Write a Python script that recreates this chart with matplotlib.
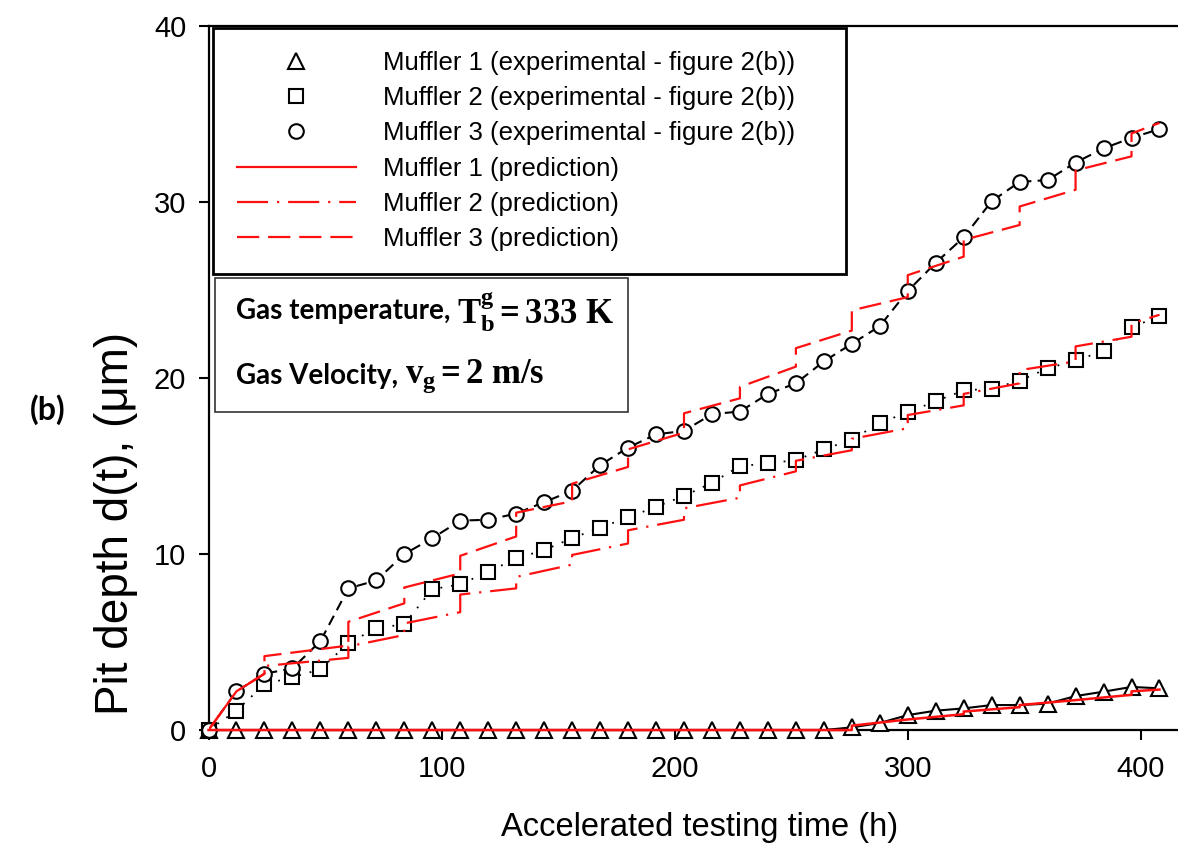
import matplotlib
matplotlib.use("Agg")
import matplotlib.pyplot as plt
from matplotlib.lines import Line2D
from matplotlib.patches import Rectangle

plt.rcParams["font.family"] = ["Liberation Sans", "DejaVu Sans"]
plt.rcParams["mathtext.fontset"] = "custom"
plt.rcParams["mathtext.rm"] = "Liberation Serif"
plt.rcParams["mathtext.it"] = "Liberation Serif:italic"
plt.rcParams["mathtext.bf"] = "Liberation Serif:bold"

RED = "#ff1010"

# experimental points, every 12 h
t_exp = list(range(0, 409, 12))
m1_exp = [0, 0, 0, 0, 0, 0, 0, 0, 0, 0, 0, 0, 0, 0, 0, 0, 0, 0, 0, 0, 0, 0, 0,
          0.15, 0.4, 0.85, 1.1, 1.23, 1.42, 1.42, 1.5, 1.93, 2.18, 2.45, 2.37]
m2_exp = [0, 1.1, 2.6, 3.0, 3.45, 4.95, 5.78, 6.02, 8.0, 8.28, 8.99, 9.75, 10.23,
          10.9, 11.5, 12.08, 12.69, 13.3, 14.05, 15.0, 15.15, 15.34, 15.95, 16.5,
          17.46, 18.05, 18.69, 19.3, 19.4, 19.85, 20.55, 21.0, 21.53, 22.9, 23.5]
m3_exp = [0, 2.2, 3.2, 3.5, 5.05, 8.05, 8.5, 10.0, 10.9, 11.9, 11.95, 12.3, 12.95,
          13.6, 15.05, 16.05, 16.8, 17.0, 17.95, 18.1, 19.1, 19.7, 20.95, 21.95,
          22.95, 24.95, 26.55, 28.0, 30.05, 31.15, 31.25, 32.25, 33.05, 33.65, 34.15]

# predictions (step-like curves, repeated time = jump)
m1_pred_t = [0, 276, 276, 300, 324, 324, 348, 348, 372, 396, 396, 408]
m1_pred = [0, 0, 0.25, 0.6, 0.9, 1.05, 1.3, 1.42, 1.7, 2.0, 2.2, 2.3]

m2_pred_t = [0, 12, 24, 24, 60, 60, 84, 84, 108, 108, 132, 132, 156, 156, 180, 180,
             204, 204, 228, 228, 252, 252, 276, 276, 300, 300, 324, 324, 348, 348,
             372, 372, 396, 396, 408]
m2_pred = [0, 2.2, 3.2, 3.64, 4.1, 4.75, 5.4, 6.06, 6.7, 7.7, 8.05, 8.7, 9.4, 9.95,
           10.6, 11.35, 11.95, 12.6, 13.2, 13.9, 14.7, 15.3, 15.9, 16.55, 17.15, 17.9,
           18.45, 19.1, 19.7, 20.45, 20.95, 21.8, 22.35, 23.1, 23.6]

m3_pred_t = [0, 12, 24, 24, 60, 60, 84, 84, 108, 108, 132, 132, 156, 156, 180, 180,
             204, 204, 228, 228, 252, 252, 276, 276, 300, 300, 324, 324, 348, 348,
             372, 372, 396, 396, 408]
m3_pred = [0, 2.2, 3.2, 4.2, 4.8, 6.15, 7.2, 8.1, 8.9, 9.9, 11.0, 12.35, 13.0, 14.0,
           14.95, 15.95, 16.9, 18.0, 18.85, 19.5, 20.65, 21.7, 22.7, 23.85, 24.6, 25.85,
           26.9, 27.85, 28.7, 29.75, 30.7, 31.8, 32.6, 33.9, 34.5]

labels = ["Muffler 1 (experimental - figure 2(b))",
          "Muffler 2 (experimental - figure 2(b))",
          "Muffler 3 (experimental - figure 2(b))",
          "Muffler 1 (prediction)",
          "Muffler 2 (prediction)",
          "Muffler 3 (prediction)"]

DASH_M3 = (0, (10, 4))
DASHDOT_M2 = (0, (14, 4, 1, 4))

fig = plt.figure(figsize=(11.78, 8.43), dpi=100)
# axes run a little past the right edge of the picture (cropped frame)
ax = fig.add_axes([0.177, 0.134, 0.833, 0.835])

mk = dict(mfc="white", mec="black", mew=1.5, color="black")
ax.plot(t_exp, m1_exp, marker="^", ms=11.5, lw=1.5, ls="-", zorder=3, clip_on=False, **mk)
ax.plot(t_exp, m2_exp, marker="s", ms=10.5, lw=1.3, ls=(0, (1, 5)), zorder=3, clip_on=False, **mk)
ax.plot(t_exp, m3_exp, marker="o", ms=10.5, lw=1.5, ls=(0, (5, 3)), zorder=3, clip_on=False, **mk)

ax.plot(m1_pred_t, m1_pred, color=RED, lw=1.8, ls="-", zorder=4, clip_on=False)
ax.plot(m2_pred_t, m2_pred, color=RED, lw=1.6, ls=DASHDOT_M2, zorder=4)
ax.plot(m3_pred_t, m3_pred, color=RED, lw=1.6, ls=DASH_M3, zorder=4)

ax.set_xlim(0, 421)
ax.set_ylim(0, 40)
ax.set_xticks([0, 100, 200, 300, 400])
ax.set_yticks([0, 10, 20, 30, 40])
ax.tick_params(direction="out", length=7, width=1.5, labelsize=21)
ax.tick_params(axis="x", pad=11)
ax.tick_params(axis="y", pad=9)
for s in ax.spines.values():
    s.set_linewidth(1.6)
ax.spines["right"].set_visible(False)

ax.set_xlabel("Accelerated testing time (h)", fontsize=23.5)
ax.xaxis.set_label_coords(0.5, -0.116)
ax.set_ylabel("Pit depth d(t), (\u03bcm)", fontsize=33)
ax.yaxis.set_label_coords(-0.072, 0.294)

# legend
handles = [
    Line2D([], [], ls="none", marker="^", mfc="white", mec="black", mew=1.5, ms=11.5),
    Line2D([], [], ls="none", marker="s", mfc="white", mec="black", mew=1.5, ms=10.5),
    Line2D([], [], ls="none", marker="o", mfc="white", mec="black", mew=1.5, ms=10.5),
    Line2D([], [], color=RED, lw=1.6, ls="-"),
    Line2D([], [], color=RED, lw=1.6, ls=DASHDOT_M2),
    Line2D([], [], color=RED, lw=1.6, ls=DASH_M3),
]
leg = ax.legend(handles, labels, loc="upper left", bbox_to_anchor=(0.005, 0.998, 0.645, 0.0),
                mode="expand", fontsize=18.5, handlelength=4.65, handletextpad=1.05,
                labelspacing=0.44, borderpad=0.9, borderaxespad=0, fancybox=False,
                framealpha=1)
leg.get_frame().set_edgecolor("black")
leg.get_frame().set_linewidth(2)

# conditions box
ax.add_patch(Rectangle((0.0066, 0.4517), 0.4205, 0.190, transform=ax.transAxes,
                       fill=True, fc="white", ec="#333333", lw=1.2, zorder=5))
t1 = ax.text(0.028, 0.595, "Gas temperature,", transform=ax.transAxes, fontsize=20,
             fontweight="bold", family="Lato", va="center", ha="left", zorder=6)
ax.annotate("$\\mathbf{T_{b}^{g} = 333\\ K}$", xy=(1, 0.5), xycoords=t1,
            xytext=(5, 0), textcoords="offset points", fontsize=25,
            va="center", ha="left", zorder=6)
t2 = ax.text(0.028, 0.503, "Gas Velocity,", transform=ax.transAxes, fontsize=20,
             fontweight="bold", family="Lato", va="center", ha="left", zorder=6)
ax.annotate("$\\mathbf{v_{g} = 2\\ m/s}$", xy=(1, 0.5), xycoords=t2,
            xytext=(5, 0), textcoords="offset points", fontsize=25,
            va="center", ha="left", zorder=6)

fig.text(30 / 1178, 1 - 410 / 843, "(b)", fontsize=23, fontweight="bold", family="Lato",
         va="center", ha="left")

fig.savefig("out.png", dpi=100)
